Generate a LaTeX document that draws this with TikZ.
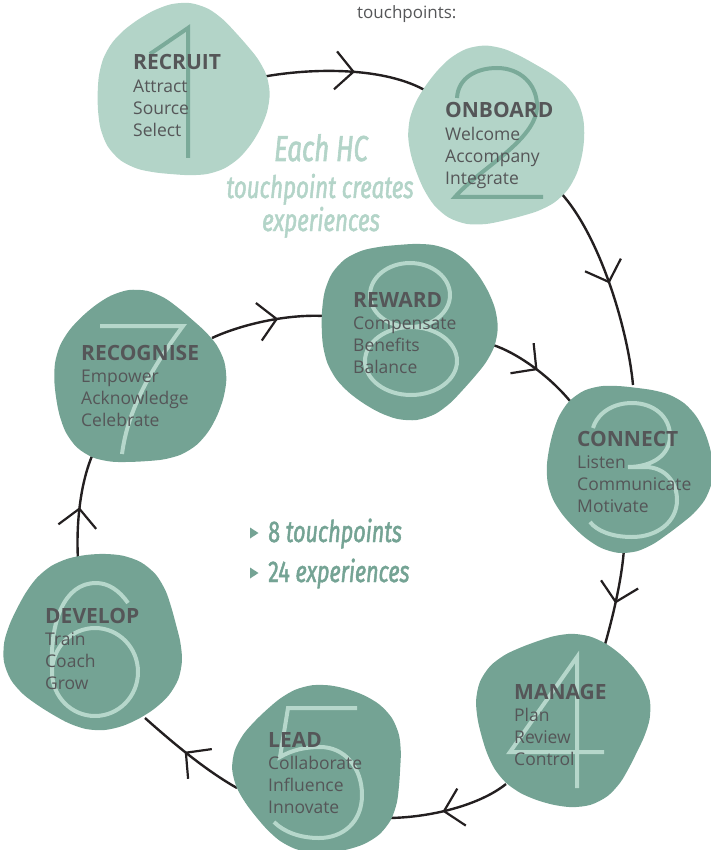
\documentclass[tikz,border=0pt]{standalone}
\usepackage{fontspec}
\setmainfont{Open Sans}
\newfontfamily\titlef{Open Sans}
\newfontfamily\handf{Fira Sans}[FakeStretch=0.72, FakeBold=1.6]
\usetikzlibrary{arrows.meta,decorations.markings}
\definecolor{lightg}{HTML}{B3D4C8}
\definecolor{darkg}{HTML}{74A394}
\definecolor{digitd}{HTML}{7AAA99}
\definecolor{digitl}{HTML}{B6D7CB}
\definecolor{txt}{HTML}{555658}
\definecolor{lnk}{HTML}{231F20}
\newcommand\blobfill[5]{\fill[#1] plot[smooth cycle, domain=0:348, samples=30, variable=\t]
 ({#2+#4*(1+0.035*sin(3*\t+#5)+0.025*cos(5*\t+2*#5))*cos(\t)},
  {#3+#4*(1+0.035*sin(3*\t+#5)+0.025*cos(5*\t+2*#5))*sin(\t)});}
\newcommand\touchtext[7]{%
 \node[ttl, anchor=base west] (#1) at (#2,#3) {#4};
 \node[bdy, anchor=base west] (#1a) at ([yshift=-22.3pt]#1.base west) {#5};
 \node[bdy, anchor=base west] (#1b) at ([yshift=-22.3pt]#1a.base west) {#6};
 \node[bdy, anchor=base west] (#1c) at ([yshift=-22.3pt]#1b.base west) {#7};}
\begin{document}
\begin{tikzpicture}[x=1pt,y=-1pt,
  link/.style={draw=lnk, line width=2.4pt, postaction={decorate},
    decoration={markings, mark=at position #1 with {\arrow{Straight Barb[length=18pt,width=38pt,line width=2.2pt]}}}},
  link/.default=0.5,
  digit/.style={line width=4pt, line cap=butt, line join=miter},
  ttl/.style={inner sep=0pt, text=txt, font=\titlef\bfseries\fontsize{21}{21}\selectfont},
  bdy/.style={inner sep=0pt, text=txt, font=\fontsize{17.5}{17.5}\selectfont},
  hand/.style={inner sep=0pt, text=lightg, font=\handf\itshape\fontsize{31}{31}\selectfont},
  handd/.style={inner sep=0pt, text=darkg, font=\handf\fontsize{30}{30}\selectfont}]
\useasboundingbox (0,0) rectangle (710,850);

% connector end points
\coordinate (e12s) at (262,77);  \coordinate (e12e) at (428,92);
\coordinate (e23s) at (560,192); \coordinate (e23e) at (633,385);
\coordinate (e34s) at (624,548); \coordinate (e34e) at (604,648);
\coordinate (e45s) at (506,784); \coordinate (e45e) at (386,818);
\coordinate (e56s) at (237,788); \coordinate (e56e) at (145,718);
\coordinate (e67s) at (78,560);  \coordinate (e67e) at (92,456);
\coordinate (e78s) at (212,338); \coordinate (e78e) at (324,316);
\coordinate (e83s) at (493,345); \coordinate (e83e) at (574,406);

% connectors
\draw[link=0.55] (e12s) .. controls (310,68) and (385,66) .. (e12e);
\draw[link=0.5]  (e23s) .. controls (600,235) and (628,330) .. (e23e);
\draw[link=0.55] (e34s) .. controls (622,580) and (612,620) .. (e34e);
\draw[link=0.55] (e45s) .. controls (480,805) and (430,818) .. (e45e);
\draw[link=0.55] (e56s) .. controls (205,770) and (172,742) .. (e56e);
\draw[link=0.5]  (e67s) .. controls (76,525) and (80,485) .. (e67e);
\draw[link=0.6]  (e78s) .. controls (240,325) and (285,314) .. (e78e);
\draw[link=0.5]  (e83s) .. controls (515,352) and (550,375) .. (e83e);

% blobs
\blobfill{lightg}{181}{93}{86}{20}
\blobfill{lightg}{495}{137}{88}{70}
\blobfill{darkg}{628}{466}{83}{130}
\blobfill{darkg}{563}{719}{86}{200}
\blobfill{darkg}{321}{769}{84}{260}
\blobfill{darkg}{95}{642}{88}{310}
\blobfill{darkg}{138}{380}{86}{40}
\blobfill{darkg}{407}{328}{88}{160}

% big digits
\draw[digit, draw=digitd] (150,54) -- (188,28) -- (188,158);
\draw[digit, draw=digitd] (457,98) .. controls (458,78) and (476,68) .. (497,68)
  .. controls (520,68) and (537,84) .. (537,106)
  .. controls (537,140) and (480,168) .. (455,197) -- (543,197);
\draw[digit, draw=digitl] (593,428) .. controls (598,412) and (614,403) .. (632,403)
  .. controls (654,403) and (670,417) .. (670,436)
  .. controls (670,455) and (652,467) .. (628,467) -- (645,467)
  .. controls (665,467) and (677,482) .. (677,500)
  .. controls (677,522) and (657,537) .. (632,537)
  .. controls (612,537) and (597,531) .. (590,522);
\draw[digit, draw=digitl] (577,788) -- (577,657) -- (510,752) -- (604,752);
\draw[digit, draw=digitl] (357,708) -- (288,708) -- (280,757)
  .. controls (292,750) and (305,747) .. (320,747)
  .. controls (345,747) and (362,768) .. (362,795)
  .. controls (362,822) and (343,838) .. (319,838)
  .. controls (300,838) and (284,832) .. (274,822);
\draw[digit, draw=digitl] (128,603) .. controls (119,590) and (108,583) .. (96,583)
  .. controls (64,583) and (50,622) .. (52,668);
\draw[digit, draw=digitl] (95,672) ellipse [x radius=43, y radius=44];
\draw[digit, draw=digitl] (100,326) -- (183,326) .. controls (152,368) and (128,408) .. (122,454);
\draw[digit, draw=digitl] (410,295) ellipse [x radius=40, y radius=32];
\draw[digit, draw=digitl] (411,361) ellipse [x radius=46, y radius=34];

% texts
\touchtext{t1}{133}{70}{RECRUIT}{Attract}{Source}{Select}
\touchtext{t2}{445}{118}{ONBOARD}{Welcome}{Accompany}{Integrate}
\touchtext{t3}{577}{446}{CONNECT}{Listen}{Communicate}{Motivate}
\touchtext{t4}{514}{699}{MANAGE}{Plan}{Review}{Control}
\touchtext{t5}{268}{747}{LEAD}{Collaborate}{Influence}{Innovate}
\touchtext{t6}{45}{623}{DEVELOP}{Train}{Coach}{Grow}
\touchtext{t7}{81}{360}{RECOGNISE}{Empower}{Acknowledge}{Celebrate}
\touchtext{t8}{353}{307}{REWARD}{Compensate}{Benefits}{Balance}

\node[inner sep=0pt, anchor=base west, text=txt, font=\fontsize{17}{17}\selectfont] (top) at (357,19) {touchpoints:};

\node[hand, anchor=base, font=\handf\itshape\fontsize{36}{36}\selectfont] (h1) at (321,161) {Each HC};
\node[hand, anchor=base] (h2) at (320,198) {touchpoint creates};
\node[hand, anchor=base] (h3) at (321,231) {experiences};

\fill[darkg] (250,527.5) -- (258.5,533) -- (250,538.5) -- cycle;
\fill[darkg] (250,567.5) -- (258.5,573) -- (250,578.5) -- cycle;
\node[handd, anchor=base west] (s1) at (268,542) {8 \itshape touchpoints};
\node[handd, anchor=base west] (s2) at (268,582) {24 \itshape experiences};
\end{tikzpicture}
\end{document}
